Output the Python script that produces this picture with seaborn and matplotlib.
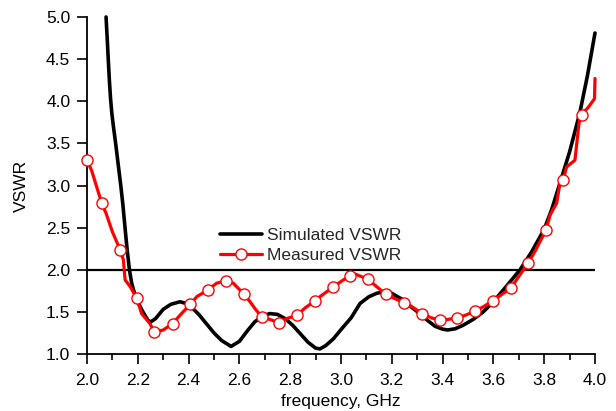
import matplotlib
matplotlib.use("Agg")
import matplotlib.pyplot as plt
from matplotlib.lines import Line2D
from matplotlib.ticker import MultipleLocator
import seaborn as sns
import pandas as pd

# ---- data ----
sim_freq = [2.075, 2.080, 2.084, 2.088, 2.093, 2.098, 2.104, 2.114, 2.124, 2.133,
            2.141, 2.150, 2.158, 2.167, 2.176, 2.186, 2.198, 2.220, 2.240, 2.250,
            2.270, 2.300, 2.330, 2.366, 2.390, 2.410, 2.440, 2.470, 2.500, 2.530,
            2.567, 2.600, 2.630, 2.660, 2.690, 2.720, 2.750, 2.780, 2.810, 2.840,
            2.870, 2.900, 2.917, 2.940, 2.970, 3.000, 3.040, 3.075, 3.110, 3.140,
            3.170, 3.200, 3.240, 3.280, 3.310, 3.340, 3.370, 3.400, 3.420, 3.450,
            3.480, 3.520, 3.560, 3.600, 3.650, 3.705, 3.750, 3.800, 3.830, 3.860,
            3.900, 3.940, 3.970, 4.000]
sim_vswr = [5.00, 4.72, 4.48, 4.25, 4.02, 3.85, 3.70, 3.47, 3.22, 3.00,
            2.78, 2.49, 2.24, 2.00, 1.84, 1.73, 1.63, 1.50, 1.40, 1.38,
            1.42, 1.53, 1.59, 1.62, 1.60, 1.56, 1.47, 1.36, 1.25, 1.16,
            1.09, 1.15, 1.27, 1.38, 1.45, 1.48, 1.47, 1.42, 1.34, 1.24,
            1.14, 1.07, 1.06, 1.10, 1.18, 1.29, 1.43, 1.60, 1.68, 1.72,
            1.74, 1.72, 1.65, 1.55, 1.48, 1.40, 1.33, 1.295, 1.285, 1.30,
            1.34, 1.41, 1.50, 1.62, 1.80, 2.00, 2.21, 2.48, 2.72, 3.01,
            3.40, 3.86, 4.30, 4.81]

meas_freq = [2.000, 2.018, 2.058, 2.075, 2.100, 2.130, 2.143, 2.150, 2.170, 2.196,
             2.215, 2.248, 2.265, 2.300, 2.337, 2.366, 2.407, 2.432, 2.476, 2.510,
             2.546, 2.576, 2.618, 2.642, 2.661, 2.688, 2.720, 2.757, 2.786, 2.826,
             2.860, 2.898, 2.917, 2.967, 3.000, 3.035, 3.055, 3.108, 3.140, 3.177,
             3.210, 3.248, 3.285, 3.318, 3.355, 3.390, 3.420, 3.458, 3.490, 3.528,
             3.560, 3.597, 3.630, 3.668, 3.700, 3.737, 3.764, 3.807, 3.823, 3.849,
             3.862, 3.875, 3.888, 3.921, 3.937, 3.947, 3.974, 3.998, 4.000]
meas_vswr = [3.30, 3.18, 2.79, 2.67, 2.45, 2.24, 2.12, 1.88, 1.80, 1.66,
             1.48, 1.36, 1.26, 1.285, 1.36, 1.46, 1.59, 1.68, 1.76, 1.84,
             1.87, 1.84, 1.71, 1.62, 1.54, 1.44, 1.41, 1.37, 1.42, 1.46,
             1.55, 1.63, 1.68, 1.79, 1.86, 1.93, 1.95, 1.885, 1.80, 1.71,
             1.66, 1.61, 1.55, 1.48, 1.43, 1.40, 1.41, 1.43, 1.46, 1.51,
             1.56, 1.63, 1.70, 1.78, 1.92, 2.08, 2.22, 2.47, 2.65, 2.79,
             3.03, 3.07, 3.22, 3.30, 3.74, 3.84, 3.93, 4.03, 4.27]

mark_freq = [2.000, 2.058, 2.130, 2.196, 2.265, 2.337, 2.407, 2.476, 2.546, 2.618,
             2.688, 2.757, 2.826, 2.898, 2.967, 3.035, 3.108, 3.177, 3.248, 3.318,
             3.390, 3.458, 3.528, 3.597, 3.668, 3.737, 3.807, 3.875, 3.947]
mark_vswr = [3.30, 2.79, 2.24, 1.66, 1.26, 1.36, 1.59, 1.76, 1.87, 1.71,
             1.44, 1.37, 1.46, 1.63, 1.79, 1.93, 1.885, 1.71, 1.61, 1.48,
             1.40, 1.43, 1.51, 1.63, 1.78, 2.08, 2.47, 3.07, 3.84]

ref_level = 2.0
x_ticks = [2.0, 2.2, 2.4, 2.6, 2.8, 3.0, 3.2, 3.4, 3.6, 3.8, 4.0]
y_ticks = [1.0, 1.5, 2.0, 2.5, 3.0, 3.5, 4.0, 4.5, 5.0]
labels = ["Simulated VSWR", "Measured VSWR"]

# ---- style ----
sns.set_theme(style="ticks")
plt.rcParams["font.family"] = ["Liberation Sans", "DejaVu Sans"]
plt.rcParams["font.size"] = 12.5

fig = plt.figure(figsize=(6.16, 4.11), dpi=100)
ax = fig.add_axes([87 / 616, 1 - 354 / 411, 508 / 616, 337 / 411])

sim_df = pd.DataFrame({"f": sim_freq, "v": sim_vswr})
meas_df = pd.DataFrame({"f": meas_freq, "v": meas_vswr})
mark_df = pd.DataFrame({"f": mark_freq, "v": mark_vswr})

ax.axhline(ref_level, color="black", lw=1.6, zorder=1)
sns.lineplot(data=sim_df, x="f", y="v", sort=False, estimator=None, ax=ax,
             color="black", lw=2.6, zorder=2, clip_on=False)
sns.lineplot(data=meas_df, x="f", y="v", sort=False, estimator=None, ax=ax,
             color="#ff0000", lw=2.3, zorder=3, clip_on=False)
ax.plot(mark_df["f"], mark_df["v"], ls="none", marker="o", ms=8,
        mfc="white", mec="#ff0000", mew=1.0, zorder=4, clip_on=False)

ax.set_xlim(2.0, 4.0)
ax.set_ylim(1.0, 5.0)
ax.set_xticks(x_ticks)
ax.set_yticks(y_ticks)
ax.xaxis.set_minor_locator(MultipleLocator(0.1))
ax.tick_params(axis="both", which="major", direction="out", length=7, width=1.2,
               color="black", labelsize=12.5, labelcolor="black", pad=5)
ax.tick_params(axis="x", which="major", pad=7)
ax.tick_params(axis="x", which="minor", direction="out", length=4, width=1.2,
               color="black")
for s in ["top", "right"]:
    ax.spines[s].set_visible(False)
for s in ["left", "bottom"]:
    ax.spines[s].set_color("black")
    ax.spines[s].set_linewidth(1.3)

ax.set_xlabel("frequency, GHz", fontsize=12.5, color="black", labelpad=4)
ax.set_ylabel("VSWR", fontsize=12.5, color="black", labelpad=12)

handles = [
    Line2D([], [], color="black", lw=2.6),
    Line2D([], [], color="#ff0000", lw=2.3, marker="o", ms=8, mfc="white",
           mec="#ff0000", mew=1.0),
]
ax.legend(handles, labels, loc="upper left", bbox_to_anchor=(0.262, 0.374),
          frameon=False, borderaxespad=0, borderpad=0, handlelength=2.4,
          handletextpad=0.3, labelspacing=0.28, fontsize=12.5)

fig.savefig("out.png", dpi=100)
